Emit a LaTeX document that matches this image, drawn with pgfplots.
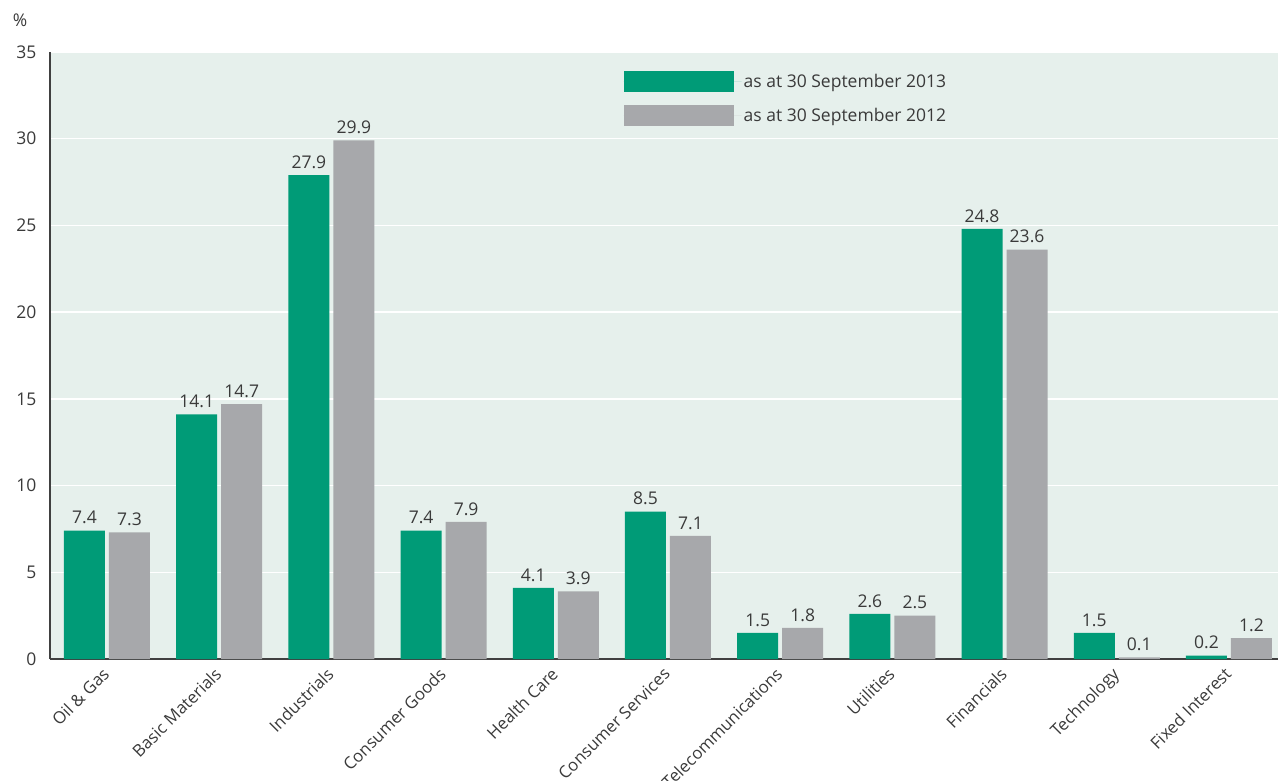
\documentclass[border=0pt]{standalone}
\usepackage{pgfplots}
\pgfplotsset{compat=1.18}
\usepackage{fontspec}
\setmainfont{Open Sans}
\definecolor{cgreen}{HTML}{009B77}
\definecolor{cgrey}{HTML}{A7A8AB}
\definecolor{cbg}{HTML}{E6F0EC}
\definecolor{ctext}{HTML}{3A3A3A}
\definecolor{caxis}{HTML}{404040}
\newcommand{\lf}{\fontsize{17.5pt}{21pt}\selectfont}
\newcommand{\tf}{\fontsize{16.8pt}{20pt}\selectfont}
\begin{document}
\begin{tikzpicture}
\useasboundingbox (-50pt,-121pt) rectangle (1228pt,659pt);
\begin{axis}[
  at={(0,0)}, anchor=south west,
  scale only axis, width=1228pt, height=607pt,
  clip=false,
  ybar=4pt, bar width=41pt,
  xmin=-0.508, xmax=10.437, ymin=0, ymax=35,
  xtick=data,
  xticklabels={Oil \& Gas,Basic Materials,Industrials,Consumer Goods,Health Care,Consumer Services,Telecommunications,Utilities,Financials,Technology,Fixed Interest},
  xticklabel style={rotate=45, anchor=north east, font=\tf, text=ctext, inner sep=1pt, xshift=-8pt, yshift=0pt},
  ytick={0,5,...,35},
  yticklabel style={font=\lf, text=ctext, xshift=-10pt},
  /pgf/number format/assume math mode=true,
  major tick length=0pt,
  axis lines*=left,
  axis line style={caxis, line width=1.2pt, -},
  axis background/.style={fill=cbg},
  ymajorgrids, major grid style={white, line width=1.5pt},
  nodes near coords,
  nodes near coords style={font=\lf, text=ctext, yshift=3pt, /pgf/number format/.cd, fixed, fixed zerofill, precision=1},
  legend style={draw=none, fill=none, at={(0.4646,0.9723)}, anchor=north west, row sep=13pt, font=\lf, text=ctext, legend cell align=left},
  legend image code/.code={\fill[#1] (0pt,-10.5pt) rectangle (110pt,10.5pt); \path (0pt,0pt) -- (118pt,0pt);},
]
\addplot[fill=cgreen, draw=none] coordinates {(0,7.4) (1,14.1) (2,27.9) (3,7.4) (4,4.1) (5,8.5) (6,1.5) (7,2.6) (8,24.8) (9,1.5) (10,0.2)};
\addplot[fill=cgrey, draw=none] coordinates {(0,7.3) (1,14.7) (2,29.9) (3,7.9) (4,3.9) (5,7.1) (6,1.8) (7,2.5) (8,23.6) (9,0.1) (10,1.2)};
\legend{as at 30 September 2013, as at 30 September 2012}
\node[text=ctext, font=\lf] at (axis description cs:-0.0244,1.053) {\%};
\end{axis}
\end{tikzpicture}
\end{document}
